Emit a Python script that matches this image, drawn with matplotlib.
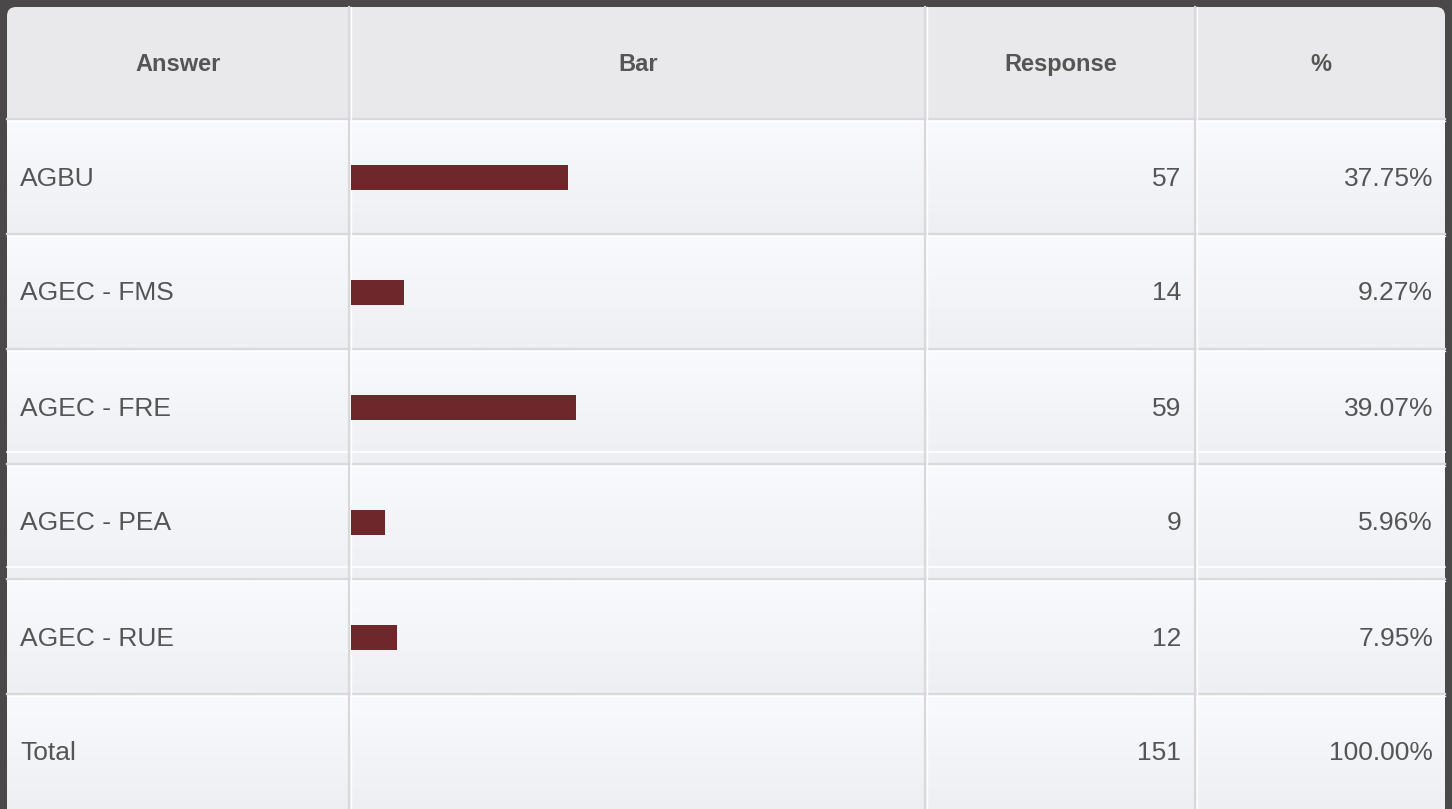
import numpy as np
import matplotlib.pyplot as plt
from matplotlib.patches import FancyBboxPatch, Rectangle
from matplotlib.colors import LinearSegmentedColormap

plt.rcParams['font.family'] = ['Liberation Sans', 'DejaVu Sans']

answers = ["AGBU", "AGEC - FMS", "AGEC - FRE", "AGEC - PEA", "AGEC - RUE"]
responses = [57, 14, 59, 9, 12]
percents = ["37.75%", "9.27%", "39.07%", "5.96%", "7.95%"]
total_label = "Total"
total_response = 151
total_percent = "100.00%"
headers = ["Answer", "Bar", "Response", "%"]

W, H = 1452, 809
frame = "#4a4848"
text_col = "#555555"
bar_col = "#6e282b"
line_col = "#d9d9db"

# layout in pixels
left, right, top = 7, 1445, 7
col_edges = [left, 350, 926, 1196, right]
header_bottom = 120
row_h = 115
n_rows = len(answers) + 1
row_edges = [header_bottom + i * row_h for i in range(n_rows + 1)]

fig = plt.figure(figsize=(W / 100, H / 100), dpi=100, facecolor=frame)
ax = fig.add_axes([0, 0, 1, 1])
ax.set_xlim(0, W)
ax.set_ylim(H, 0)
ax.axis("off")

# table body with rounded top corners
ax.add_patch(FancyBboxPatch((left, top), right - left, H + 40 - top,
                            boxstyle="round,pad=0,rounding_size=9",
                            fc="#e9e9eb", ec="none", zorder=1))

# soft vertical gradient in each body row
grad = LinearSegmentedColormap.from_list("rowgrad", ["#f9fafd", "#eeeff3"])
g = np.linspace(0, 1, 64).reshape(-1, 1)
for i in range(n_rows):
    y0, y1 = row_edges[i], row_edges[i + 1]
    ax.imshow(g, cmap=grad, aspect="auto", extent=[left, right, y1, y0],
              interpolation="bilinear", zorder=2)

# faint inner lines near the bottom of a couple of rows
for i in (2, 3):
    yl = row_edges[i + 1] - 13
    ax.plot([left, right], [yl, yl], color="white", lw=1.2, zorder=3)

# grid lines: grey line with a white highlight
for y in row_edges[:-1]:
    ax.plot([left, right], [y - 1, y - 1], color=line_col, lw=1.6, zorder=4)
    ax.plot([left, right], [y + 0.6, y + 0.6], color="white", lw=1.0, zorder=4)
for x in col_edges[1:-1]:
    ax.plot([x - 1, x - 1], [top, H], color=line_col, lw=1.6, zorder=4)
    ax.plot([x + 0.6, x + 0.6], [top, H], color="white", lw=1.0, zorder=4)

# headers
for j, h in enumerate(headers):
    cx = (col_edges[j] + col_edges[j + 1]) / 2
    ax.text(cx, (top + header_bottom) / 2 + 1, h, ha="center", va="center",
            fontsize=17, fontweight="bold", color=text_col, zorder=5)

# body text
labels = answers + [total_label]
resp_text = [str(r) for r in responses] + [str(total_response)]
pct_text = percents + [total_percent]
for i in range(n_rows):
    cy = (row_edges[i] + row_edges[i + 1]) / 2 + 1
    ax.text(20, cy, labels[i], ha="left", va="center", fontsize=19,
            color=text_col, zorder=5)
    ax.text(1181, cy, resp_text[i], ha="right", va="center", fontsize=19,
            color=text_col, zorder=5)
    ax.text(1433, cy, pct_text[i], ha="right", va="center", fontsize=19,
            color=text_col, zorder=5)

# bars drawn in their own axes over the Bar column
bx0, bx1 = 351, 926
by0, by1 = row_edges[0], row_edges[len(answers)]
bar_ax = fig.add_axes([bx0 / W, (H - by1) / H, (bx1 - bx0) / W, (by1 - by0) / H])
bar_ax.barh(np.arange(len(answers)), responses, height=25 / row_h,
            color=bar_col, zorder=6)
bar_ax.set_xlim(0, total_response)
bar_ax.set_ylim(len(answers) - 0.5, -0.5)
bar_ax.patch.set_alpha(0)
bar_ax.axis("off")

fig.savefig("out.png", dpi=100, facecolor=frame)
